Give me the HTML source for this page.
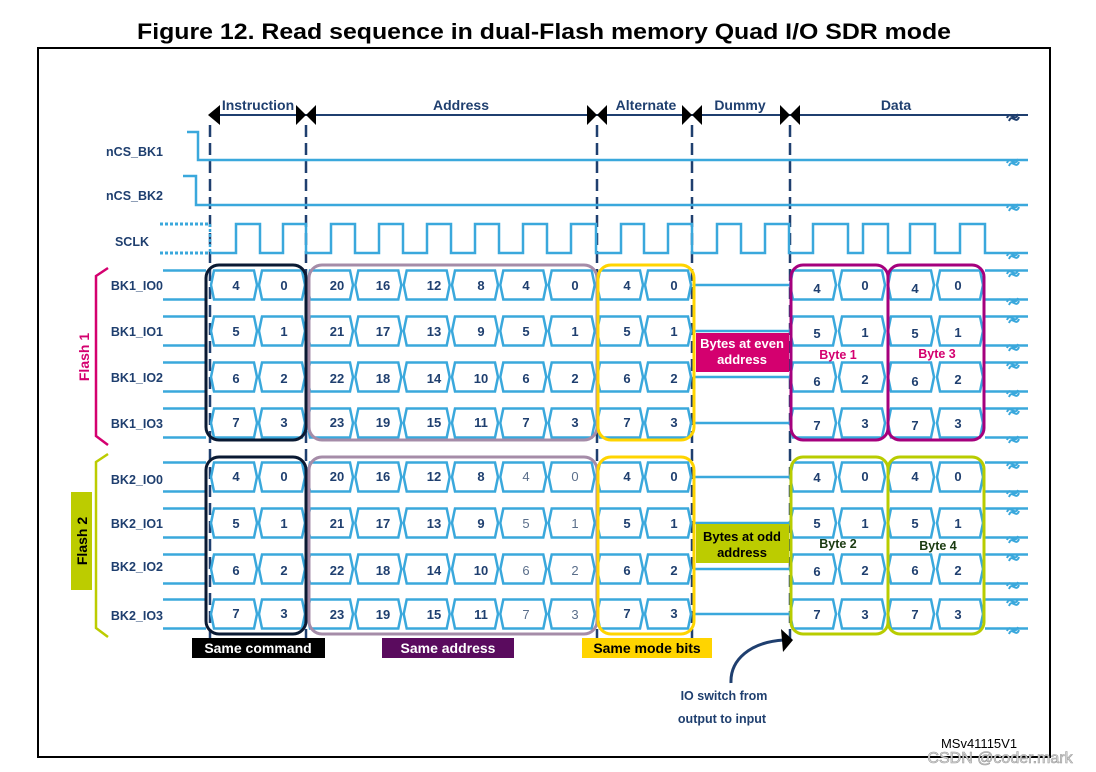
<!DOCTYPE html>
<html><head><meta charset="utf-8"><style>
html,body{margin:0;padding:0;background:#fff;}
svg{display:block;}
text{font-family:"Liberation Sans",sans-serif;}
.lb{font-size:12.5px;font-weight:bold;fill:#1f3f6f;}
.n{font-size:13px;font-weight:bold;fill:#1f3f6f;text-anchor:middle;}
.g{fill:#5a6e8a;font-weight:normal;}
.h{font-size:14px;font-weight:bold;fill:#1f3f6f;text-anchor:middle;}
</style></head><body>
<svg width="1096" height="772" viewBox="0 0 1096 772" xmlns="http://www.w3.org/2000/svg">
<defs>
<path id="c" d="M4,-14.5 h40 l3,14.5 l-3,14.5 h-40 l-3,-14.5z" fill="none" stroke="#3aa8dc" stroke-width="2.5"/>
<path id="sq" d="M-5,3 C-2,-5 3,8 6,-1 M-3,6 C0,-2 4,10 7,2" fill="none" stroke-width="2"/>
<g id="row">
<path d="M163,-14.5 H206 M163,14.5 H206 M985,-14.5 H1028 M985,14.5 H1028 M694,0 H789" stroke="#3aa8dc" stroke-width="2.5" fill="none"/>
<use href="#c" x="210"/><use href="#c" x="258"/>
<use href="#c" x="306"/><use href="#c" x="354.3"/><use href="#c" x="402.7"/><use href="#c" x="451"/><use href="#c" x="499.3"/><use href="#c" x="547.7"/>
<use href="#c" x="596"/><use href="#c" x="644"/>
<use href="#c" x="789"/><use href="#c" x="838"/><use href="#c" x="887"/><use href="#c" x="936"/>
<use href="#sq" x="1012" y="-14" stroke="#3aa8dc"/><use href="#sq" x="1012" y="14" stroke="#3aa8dc"/>
</g>
</defs>

<text x="544" y="39" text-anchor="middle" font-size="22" font-weight="bold" textLength="814" lengthAdjust="spacingAndGlyphs">Figure 12. Read sequence in dual-Flash memory Quad I/O SDR mode</text>
<rect x="38" y="48" width="1012" height="709" fill="none" stroke="#000" stroke-width="2"/>

<!-- header -->
<line x1="210" y1="115" x2="1028" y2="115" stroke="#1f3f6f" stroke-width="2"/>
<use href="#sq" x="1012" y="115" stroke="#1f3f6f"/>
<g fill="#000">
<polygon points="208,115 220,105 220,125"/>
<polygon points="296,105 306,115 296,125 306,115 316,105 306,115 316,125"/>
<polygon points="296,105 306,115 296,125"/><polygon points="316,105 306,115 316,125"/>
<polygon points="587,105 597,115 587,125"/><polygon points="607,105 597,115 607,125"/>
<polygon points="682,105 692,115 682,125"/><polygon points="702,105 692,115 702,125"/>
<polygon points="780,105 790,115 780,125"/><polygon points="800,105 790,115 800,125"/>
</g>
<text class="h" x="258" y="110">Instruction</text>
<text class="h" x="461" y="110">Address</text>
<text class="h" x="646" y="110">Alternate</text>
<text class="h" x="740" y="110">Dummy</text>
<text class="h" x="896" y="110">Data</text>

<!-- dashed verticals -->
<g stroke="#1f3f6f" stroke-width="2.5" stroke-dasharray="12,6">
<line x1="210" y1="125" x2="210" y2="640"/>
<line x1="306" y1="125" x2="306" y2="640"/>
<line x1="597" y1="125" x2="597" y2="640"/>
<line x1="692" y1="125" x2="692" y2="640"/>
<line x1="790" y1="125" x2="790" y2="640"/>
</g>

<!-- signal labels -->
<g class="lb" text-anchor="end">
<text x="163" y="156">nCS_BK1</text>
<text x="163" y="200">nCS_BK2</text>
<text x="149" y="246">SCLK</text>
<text x="163" y="290">BK1_IO0</text>
<text x="163" y="336">BK1_IO1</text>
<text x="163" y="382">BK1_IO2</text>
<text x="163" y="428">BK1_IO3</text>
<text x="163" y="484">BK2_IO0</text>
<text x="163" y="528">BK2_IO1</text>
<text x="163" y="571">BK2_IO2</text>
<text x="163" y="620">BK2_IO3</text>
</g>

<!-- nCS and SCLK -->
<g fill="none" stroke="#3aa8dc" stroke-width="2.5">
<path d="M187,132 H198 V160 H1028"/>
<path d="M183,176 H196 V205 H1028"/>
<path d="M160,224 H210 M160,253 H210" stroke-dasharray="3,2" stroke-width="3"/>
<path d="M210,224 V253"  stroke-dasharray="3,2"/>
<path d="M210,253 H236 V224 H260 V253 H283 V224 H306 V253 H331 V224 H355 V253 H379 V224 H403 V253 H427 V224 H451 V253 H475 V224 H499 V253 H523 V224 H547 V253 H571 V224 H596 V253 H621 V224 H644 V253 H668 V224 H692 V253 H717 V224 H741 V253 H765 V224 H789 V253 H813 V224 H848 V253 H863 V224 H888 V253 H910 V224 H935 V253 H960 V224 H985 V253 H1028"/>
</g>
<use href="#sq" x="1012" y="160" stroke="#3aa8dc"/>
<use href="#sq" x="1012" y="205" stroke="#3aa8dc"/>
<use href="#sq" x="1012" y="253" stroke="#3aa8dc"/>

<!-- rows -->
<use href="#row" y="285"/><use href="#row" y="331"/><use href="#row" y="377"/><use href="#row" y="423"/>
<use href="#row" y="477"/><use href="#row" y="523"/><use href="#row" y="569"/><use href="#row" y="614"/>

<!-- labels boxes over dummy -->
<rect x="696" y="333" width="93" height="39" fill="#d4006f"/>
<text x="742" y="348" fill="#fff" font-size="13" font-weight="bold" text-anchor="middle">Bytes at even</text>
<text x="742" y="364" fill="#fff" font-size="13" font-weight="bold" text-anchor="middle">address</text>
<rect x="696" y="524" width="93" height="39" fill="#bccc00"/>
<text x="742" y="541" fill="#000" font-size="13" font-weight="bold" text-anchor="middle">Bytes at odd</text>
<text x="742" y="557" fill="#000" font-size="13" font-weight="bold" text-anchor="middle">address</text>

<!-- numbers -->
<g class="n">
<text x="236" y="290">4</text><text x="284" y="290">0</text>
<text x="337" y="290">20</text><text x="383" y="290">16</text><text x="434" y="290">12</text><text x="481" y="290">8</text><text x="526" y="290">4</text><text x="575" y="290">0</text>
<text x="627" y="290">4</text><text x="674" y="290">0</text>
<text x="817" y="293">4</text><text x="865" y="290">0</text><text x="915" y="293">4</text><text x="958" y="290">0</text>

<text x="236" y="336">5</text><text x="284" y="336">1</text>
<text x="337" y="336">21</text><text x="383" y="336">17</text><text x="434" y="336">13</text><text x="481" y="336">9</text><text x="526" y="336">5</text><text x="575" y="336">1</text>
<text x="627" y="336">5</text><text x="674" y="336">1</text>
<text x="817" y="338">5</text><text x="865" y="337">1</text><text x="915" y="338">5</text><text x="958" y="337">1</text>

<text x="236" y="383">6</text><text x="284" y="383">2</text>
<text x="337" y="383">22</text><text x="383" y="383">18</text><text x="434" y="383">14</text><text x="481" y="383">10</text><text x="526" y="383">6</text><text x="575" y="383">2</text>
<text x="627" y="383">6</text><text x="674" y="383">2</text>
<text x="817" y="386">6</text><text x="865" y="384">2</text><text x="915" y="386">6</text><text x="958" y="384">2</text>

<text x="236" y="427">7</text><text x="284" y="427">3</text>
<text x="337" y="427">23</text><text x="383" y="427">19</text><text x="434" y="427">15</text><text x="481" y="427">11</text><text x="526" y="427">7</text><text x="575" y="427">3</text>
<text x="627" y="427">7</text><text x="674" y="427">3</text>
<text x="817" y="430">7</text><text x="865" y="428">3</text><text x="915" y="430">7</text><text x="958" y="428">3</text>

<text x="236" y="481">4</text><text x="284" y="481">0</text>
<text x="337" y="481">20</text><text x="383" y="481">16</text><text x="434" y="481">12</text><text x="481" y="481">8</text><text class="g" x="526" y="481">4</text><text class="g" x="575" y="481">0</text>
<text x="627" y="481">4</text><text x="674" y="481">0</text>
<text x="817" y="482">4</text><text x="865" y="481">0</text><text x="915" y="481">4</text><text x="958" y="481">0</text>

<text x="236" y="528">5</text><text x="284" y="528">1</text>
<text x="337" y="528">21</text><text x="383" y="528">17</text><text x="434" y="528">13</text><text x="481" y="528">9</text><text class="g" x="526" y="528">5</text><text class="g" x="575" y="528">1</text>
<text x="627" y="528">5</text><text x="674" y="528">1</text>
<text x="817" y="528">5</text><text x="865" y="528">1</text><text x="915" y="528">5</text><text x="958" y="528">1</text>

<text x="236" y="575">6</text><text x="284" y="575">2</text>
<text x="337" y="575">22</text><text x="383" y="575">18</text><text x="434" y="575">14</text><text x="481" y="575">10</text><text class="g" x="526" y="575">6</text><text class="g" x="575" y="575">2</text>
<text x="627" y="575">6</text><text x="674" y="575">2</text>
<text x="817" y="576">6</text><text x="865" y="575">2</text><text x="915" y="575">6</text><text x="958" y="575">2</text>

<text x="236" y="618">7</text><text x="284" y="618">3</text>
<text x="337" y="619">23</text><text x="383" y="619">19</text><text x="434" y="619">15</text><text x="481" y="619">11</text><text class="g" x="526" y="619">7</text><text class="g" x="575" y="619">3</text>
<text x="627" y="618">7</text><text x="674" y="618">3</text>
<text x="817" y="619">7</text><text x="865" y="619">3</text><text x="915" y="619">7</text><text x="958" y="619">3</text>
</g>

<!-- byte labels -->
<g font-size="12.5" font-weight="bold" text-anchor="middle">
<text x="838" y="359" fill="#d4006f">Byte 1</text>
<text x="937" y="358" fill="#d4006f">Byte 3</text>
<text x="838" y="548" fill="#1a3a10">Byte 2</text>
<text x="938" y="550" fill="#1a3a10">Byte 4</text>
</g>

<!-- group boxes -->
<g fill="none" stroke-width="3">
<rect x="206" y="265" width="100" height="175" rx="13" stroke="#0a1a33"/>
<rect x="206" y="457" width="100" height="177" rx="13" stroke="#0a1a33"/>
<rect x="309" y="265" width="288" height="175" rx="13" stroke="#a58ca8"/>
<rect x="309" y="457" width="288" height="177" rx="13" stroke="#a58ca8"/>
<rect x="598" y="265" width="96" height="175" rx="13" stroke="#ffd400"/>
<rect x="598" y="457" width="96" height="177" rx="13" stroke="#ffd400"/>
<rect x="791" y="265" width="97" height="175" rx="12" stroke="#a5007d"/>
<rect x="888" y="265" width="96" height="175" rx="12" stroke="#a5007d"/>
<rect x="791" y="457" width="97" height="177" rx="12" stroke="#b8cc00"/>
<rect x="888" y="457" width="96" height="177" rx="12" stroke="#b8cc00"/>
</g>

<!-- braces -->
<path d="M108,268 L96,276 V436 L108,445" fill="none" stroke="#d4006f" stroke-width="2.5"/>
<text transform="translate(89,357) rotate(-90)" font-size="14" font-weight="bold" fill="#d4006f" text-anchor="middle">Flash 1</text>
<path d="M108,454 L96,462 V628 L108,637" fill="none" stroke="#bccc00" stroke-width="2.5"/>
<rect x="71" y="492" width="21" height="98" fill="#bccc00"/>
<text transform="translate(87,541) rotate(-90)" font-size="14" font-weight="bold" fill="#000" text-anchor="middle">Flash 2</text>

<!-- bottom labels -->
<rect x="192" y="638" width="133" height="20" fill="#000"/>
<text x="258" y="653" fill="#fff" font-size="14" font-weight="bold" text-anchor="middle">Same command</text>
<rect x="382" y="638" width="132" height="20" fill="#5a0b5e"/>
<text x="448" y="653" fill="#fff" font-size="14" font-weight="bold" text-anchor="middle">Same address</text>
<rect x="582" y="638" width="130" height="20" fill="#ffd400"/>
<text x="647" y="653" fill="#000" font-size="14" font-weight="bold" text-anchor="middle">Same mode bits</text>

<!-- arrow -->
<path d="M731,683 C730,660 750,642 784,640" fill="none" stroke="#1f3f6f" stroke-width="3"/>
<polygon points="793,640 781,629 783,652" fill="#000"/>
<text x="724" y="700" class="lb" text-anchor="middle">IO switch from</text>
<text x="722" y="723" class="lb" text-anchor="middle">output to input</text>

<text x="979" y="748" font-size="13" text-anchor="middle" fill="#000">MSv41115V1</text>
<text x="1000" y="763" font-size="16" text-anchor="middle" fill="#ddd" stroke="#999" stroke-width="0.6">CSDN @coder.mark</text>
</svg>
</body></html>
